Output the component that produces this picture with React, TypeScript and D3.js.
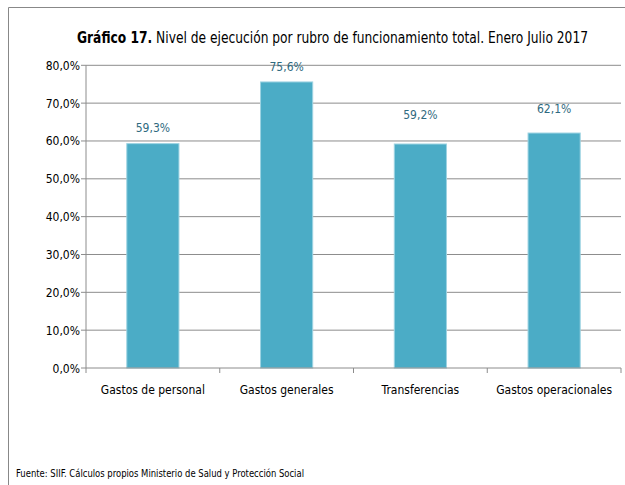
import React from "react";
import * as d3 from "d3";

const categories = ["Gastos de personal", "Gastos generales", "Transferencias", "Gastos operacionales"];
const values = [59.3, 75.6, 59.2, 62.1];
const valueLabels = ["59,3%", "75,6%", "59,2%", "62,1%"];
const yTicks = [0, 10, 20, 30, 40, 50, 60, 70, 80];
const titleBold = "Gráfico 17.";
const titleRest = " Nivel de ejecución por rubro de funcionamiento total. Enero Julio 2017";
const source = "Fuente: SIIF. Cálculos propios Ministerio de Salud y Protección Social";

// manual label lift (px above bar top), as placed in the original
const labelLift = [17, 16, 30, 25];

const W = 625;
const H = 485;
const font = "'DejaVu Sans Condensed', 'Liberation Sans Narrow', sans-serif";

export default function App() {
  const left = 86, right = 621, top = 65.3, bottom = 368;
  const x = d3.scaleBand<string>().domain(categories).range([left, right]).paddingInner(0.61).paddingOuter(0.305);
  const y = d3.scaleLinear().domain([0, 80]).range([bottom, top]);
  const band = (right - left) / categories.length;

  return (
    <svg width={W} height={H} style={{ position: "absolute", left: 0, top: 0 }}>
      <rect x={0} y={0} width={W} height={H} fill="#fff" />
      <line x1={8.5} y1={7.5} x2={W} y2={7.5} stroke="#888" />
      <line x1={8.5} y1={7.5} x2={8.5} y2={H} stroke="#888" />
      <text x={77} y={43} fontFamily={font} fontSize={15} fill="#000" textLength={511} lengthAdjust="spacingAndGlyphs">
        <tspan fontWeight="bold">{titleBold}</tspan>
        <tspan>{titleRest}</tspan>
      </text>
      {yTicks.map((t) => (
        <g key={t}>
          {t > 0 && <line x1={left - 5} x2={right} y1={y(t)} y2={y(t)} stroke="#8c8c8c" strokeWidth={1} />}
          {t === 0 && <line x1={left - 5} x2={left} y1={y(t)} y2={y(t)} stroke="#8c8c8c" />}
          <text x={left - 6} y={y(t) + 4.5} textAnchor="end" fontFamily={font} fontSize={12} fill="#000">
            {d3.format(".1f")(t).replace(".", ",") + "%"}
          </text>
        </g>
      ))}
      <line x1={left} x2={left} y1={top} y2={bottom} stroke="#8c8c8c" />
      {categories.map((c, i) => (
        <rect key={c} x={x(c)!} y={y(values[i])} width={x.bandwidth()} height={bottom - y(values[i])}
          fill="#4BACC6" stroke="#9DD3E2" strokeWidth={1} />
      ))}
      <line x1={left} x2={right} y1={bottom} y2={bottom} stroke="#8c8c8c" />
      {d3.range(categories.length + 1).map((i) => (
        <line key={i} x1={left + i * band} x2={left + i * band} y1={bottom} y2={bottom + 5} stroke="#8c8c8c" />
      ))}
      {categories.map((c, i) => (
        <text key={c} x={x(c)! + x.bandwidth() / 2} y={y(values[i]) - labelLift[i] + 5} textAnchor="middle"
          fontFamily={font} fontSize={12} fill="#2F6A80">{valueLabels[i]}</text>
      ))}
      {categories.map((c) => (
        <text key={c} x={x(c)! + x.bandwidth() / 2} y={394} textAnchor="middle" fontFamily={font} fontSize={12} fill="#000">{c}</text>
      ))}
      <text x={16} y={477} fontFamily={font} fontSize={10.5} fill="#000" textLength={288} lengthAdjust="spacingAndGlyphs">{source}</text>
    </svg>
  );
}
